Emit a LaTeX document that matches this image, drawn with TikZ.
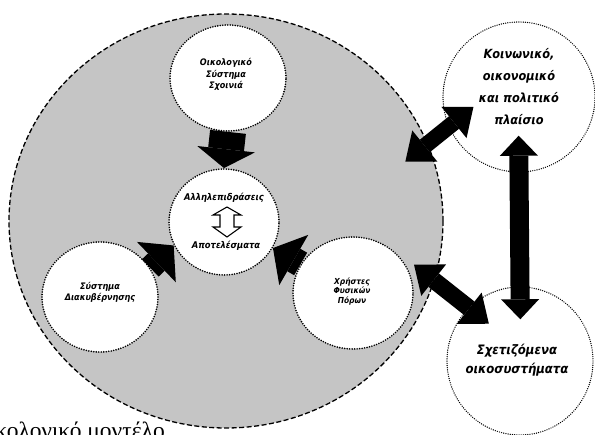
\documentclass[tikz,border=0pt]{standalone}
\usepackage{fontspec}
\setmainfont{Liberation Serif}
\IfFontExistsTF{DejaVuSansCondensed-BoldOblique.ttf}
  {\newfontfamily\arialf{DejaVuSansCondensed-BoldOblique.ttf}}
  {\newfontfamily\arialf{Liberation Sans}[FakeBold=2.2,FakeSlant=0.2]}
\IfFontExistsTF{NotoSans-BoldItalic.ttf}
  {\newfontfamily\calibf{NotoSans-BoldItalic.ttf}\newcommand\osz{\fontsize{14}{22}\selectfont}\newcommand\osze{\fontsize{14.5}{19.5}\selectfont}}
  {\newfontfamily\calibf{DejaVuSansCondensed-BoldOblique.ttf}\newcommand\osz{\fontsize{12.6}{22}\selectfont}\newcommand\osze{\fontsize{13}{19.5}\selectfont}}
\usetikzlibrary{shapes.geometric,arrows.meta,calc}
\definecolor{bggray}{RGB}{197,197,197}
\begin{document}
\begin{tikzpicture}[x=1pt,y=-1pt,
  bigell/.style={ellipse,draw,fill=bggray,line width=1.3pt,dash pattern=on 5pt off 2.5pt,inner sep=0pt},
  innerc/.style={ellipse,draw,fill=white,line width=1.8pt,line cap=round,dash pattern=on 0pt off 2.5pt,inner sep=0pt},
  outerc/.style={ellipse,draw,fill=white,line width=1.4pt,line cap=round,dash pattern=on 0pt off 2.2pt,inner sep=0pt},
  lbl/.style={align=center,inner sep=0pt,font=\arialf\fontsize{9}{11.5}\selectfont},
  lblc/.style={align=center,inner sep=0pt,font=\arialf\fontsize{9.3}{11}\selectfont},
  lbls/.style={align=center,inner sep=0pt,font=\arialf\fontsize{8.3}{9.8}\selectfont},
  olbl/.style={align=center,inner sep=0pt,font=\calibf\osz},
  olble/.style={align=center,inner sep=0pt,font=\calibf\osze},
  blk/.style n args={3}{line width=#1pt,-{Triangle[length=#3pt,width=#2pt,line width=0pt]}},
  dbl/.style n args={3}{line width=#1pt,{Triangle[length=#3pt,width=#2pt,line width=0pt]}-{Triangle[length=#3pt,width=#2pt,line width=0pt]}},
  hollow/.style={draw,fill=white,line width=1.1pt,line join=miter}
]
\useasboundingbox (0,0) rectangle (595,435);
\clip (0,0) rectangle (595,435);
\fill[white] (0,0) rectangle (595,435);

\node[bigell,minimum width=434pt,minimum height=414pt] (big) at (226,221) {};

\node[innerc,minimum width=116pt,minimum height=106pt] (eco1) at (228,78) {};
\node[lbl] (eco1L) at (226,74.5) {Οικολογικό\\Σύστημα\\Σχοινιά};

\node[innerc,minimum width=110pt,minimum height=106pt] (ctr) at (224,222) {};
\node[lblc] (ctrT) at (224,198) {Αλληλεπιδράσεις};
\node[lblc] (ctrB) at (226,246) {Αποτελέσματα};

\node[innerc,minimum width=116pt,minimum height=110pt] (gov) at (100,297) {};
\node[lbl] (govL) at (100,292.5) {Σύστημα\\Διακυβέρνησης};

\node[innerc,minimum width=120pt,minimum height=112pt] (usr) at (353,293) {};
\node[lbls] (usrL) at (352,291.5) {Χρήστες\\Φυσικών\\Πόρων};

\node[outerc,minimum width=152pt,minimum height=150pt] (kp) at (519,97) {};
\node[olbl] (kpL) at (519,87) {Κοινωνικό,\\οικονομικό\\και πολιτικό\\πλαίσιο};

\node[outerc,minimum width=146pt,minimum height=148pt] (eco) at (520,361) {};
\node[olble] (ecoL) at (517,360) {Σχετιζόμενα\\οικοσυστήματα};

\node[anchor=base east,inner sep=0pt,font=\fontsize{23.5}{23.5}\selectfont] (cap) at (165,439) {οικολογικό μοντέλο};

% hollow double arrow
\coordinate (ia) at (227,207);
\draw[hollow] (ia) -- ++(14,8) -- ++(-7,0) -- ++(0,12) -- ++(7,0) -- ++(-14,10)
  -- ++(-14,-10) -- ++(7,0) -- ++(0,-12) -- ++(-7,0) -- cycle;

% solid arrows
\draw[blk={36}{58}{19}] (eco1.south) -- (ctr.north);
\draw[blk={24}{56}{24}] (gov.30) -- (ctr.205);
\draw[blk={26}{58}{24}] (usr.151) -- (ctr.332);

\draw[dbl={16}{40}{25},shorten <=-29pt,shorten >=-32pt] (big.21) -- (kp.203);
\draw[dbl={19}{38}{20},shorten <=-37pt,shorten >=-33pt] (kp.south) -- (eco.north);
\draw[dbl={17}{40}{25},shorten <=-26pt,shorten >=-26pt] (big.344) -- (eco.134);
\end{tikzpicture}
\end{document}
